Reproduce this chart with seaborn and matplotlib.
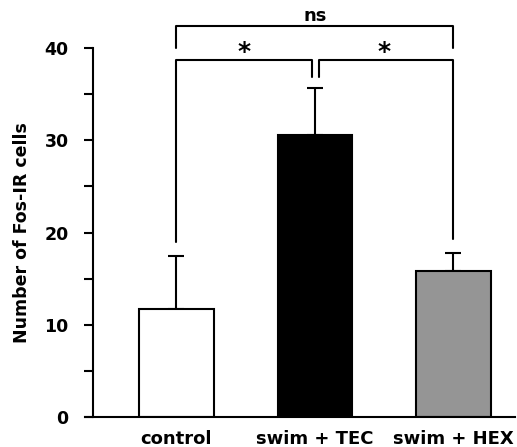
import matplotlib
matplotlib.use('Agg')
import matplotlib.pyplot as plt
import seaborn as sns
from matplotlib.ticker import MultipleLocator

# data
groups = ['control', 'swim + TEC', 'swim + HEX']
means = [11.7, 30.6, 15.8]
sem = [5.7, 5.1, 2.0]
bar_colors = ['white', 'black', '#959595']

sns.set_style('ticks')
plt.rcParams['font.family'] = ['DejaVu Sans']
plt.rcParams['font.weight'] = 'bold'
for key in ['text.color', 'axes.labelcolor', 'xtick.color', 'ytick.color', 'axes.edgecolor']:
    plt.rcParams[key] = 'black'

fig = plt.figure(figsize=(5.17, 4.47), dpi=100)
ax = fig.add_axes([85 / 517, 30 / 447, 430 / 517, 369 / 447])

sns.barplot(x=groups, y=means, hue=groups, palette=bar_colors, edgecolor='black',
            linewidth=1.5, width=0.54, legend=False, errorbar=None, ax=ax, zorder=2)

# upward-only error bars
ax.errorbar(range(len(groups)), means, yerr=[[0] * len(sem), sem], fmt='none',
            ecolor='black', elinewidth=1.5, capsize=5.8, capthick=1.5, zorder=1)

ax.set_xlim(-0.66, 2.444)
ax.set_ylim(0, 40)
ax.yaxis.set_major_locator(MultipleLocator(10))
ax.yaxis.set_minor_locator(MultipleLocator(5))
ax.tick_params(axis='y', which='both', length=6.5, width=1.5, direction='out',
               labelsize=12.5, pad=11, color='black', labelcolor='black')
ax.tick_params(axis='x', length=0, labelsize=13, pad=9, labelcolor='black')
for lab in ax.get_yticklabels() + ax.get_xticklabels():
    lab.set_fontweight('bold')

sns.despine(ax=ax)
ax.spines['left'].set_position(('data', -0.602))
ax.spines['left'].set_bounds(0, 40)
ax.spines['left'].set_linewidth(1.5)
ax.spines['bottom'].set_linewidth(1.5)

ax.set_xlabel('')
ax.set_ylabel('Number of Fos-IR cells', fontsize=12.5, fontweight='bold', color='black')
ax.yaxis.set_label_coords(-0.126, 0.5)

# significance brackets
lw = 1.5
ax.plot([0, 0, 0.98, 0.98], [19.0, 38.7, 38.7, 36.9], color='black', lw=lw, clip_on=False)
ax.plot([1.03, 1.03, 2.0, 2.0], [36.9, 38.7, 38.7, 19.3], color='black', lw=lw, clip_on=False)
ax.plot([0, 0, 2.0, 2.0], [40.0, 42.4, 42.4, 40.0], color='black', lw=lw, clip_on=False)
ax.text(0.49, 38.8, '*', ha='center', va='baseline', fontsize=18, fontweight='bold', color='black')
ax.text(1.5, 38.8, '*', ha='center', va='baseline', fontsize=18, fontweight='bold', color='black')
ax.text(1.0, 42.95, 'ns', ha='center', va='baseline', fontsize=13, fontweight='bold', color='black')

fig.savefig('out.png', dpi=100)
